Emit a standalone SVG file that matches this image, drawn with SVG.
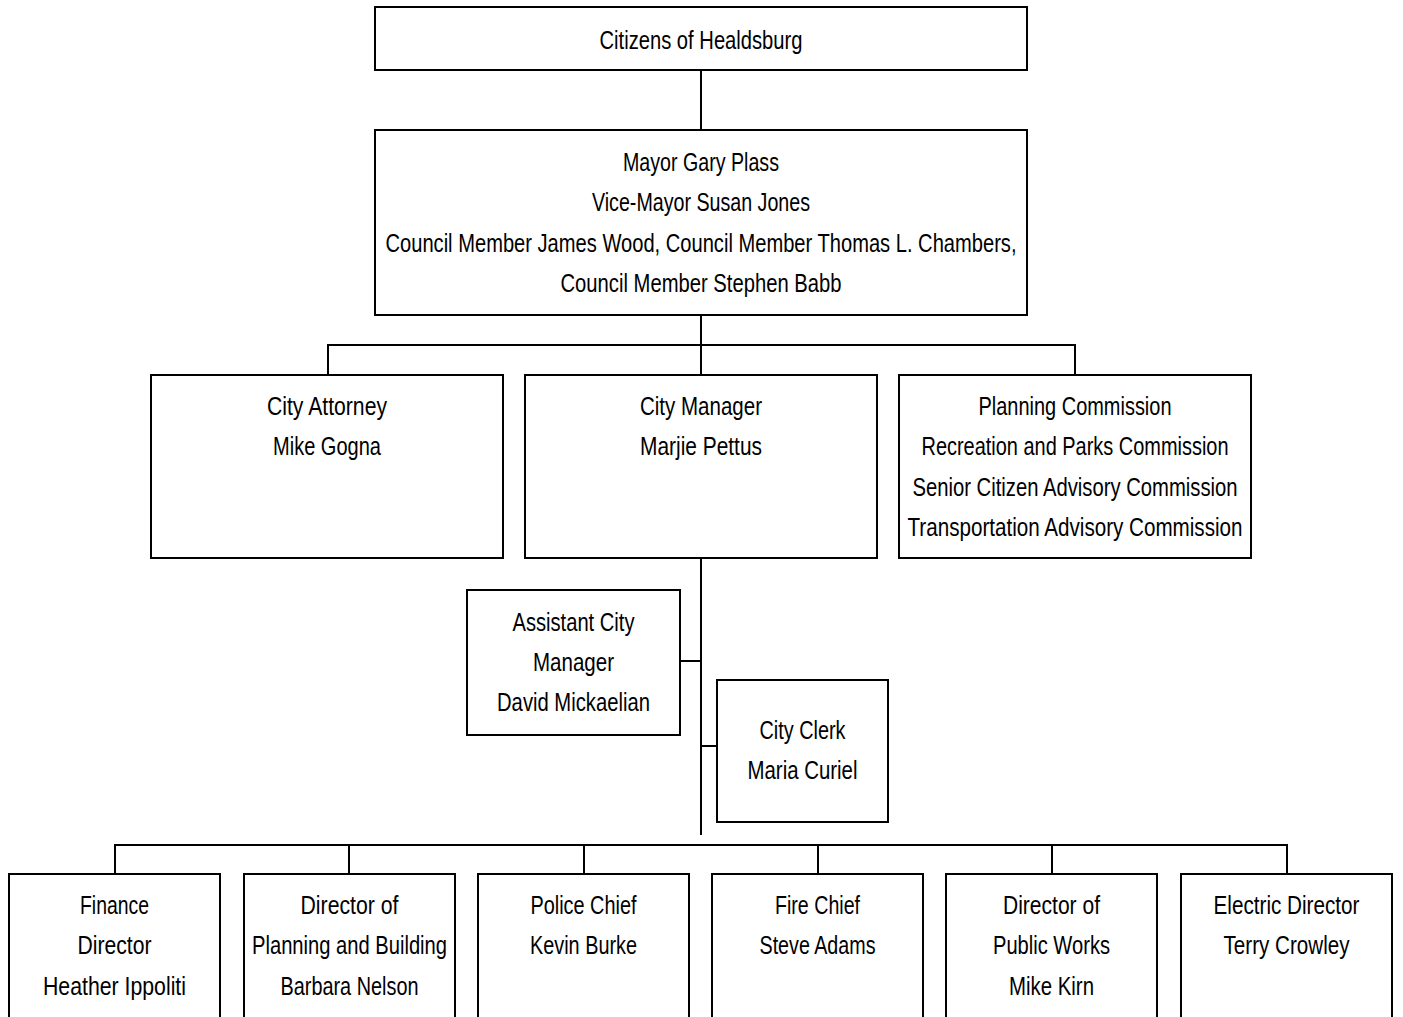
<svg xmlns="http://www.w3.org/2000/svg" width="1403" height="1017" viewBox="0 0 1403 1017">
<style>
  .box { fill: #ffffff; stroke: #000000; stroke-width: 2; }
  .conn { fill: none; stroke: #000000; stroke-width: 2; }
  text { font-family: "Liberation Sans Narrow", "Liberation Sans", Arial, sans-serif; font-size: 25px; fill: #000000; text-anchor: middle; }
</style>
<rect width="1403" height="1017" fill="#ffffff"/>
<g id="connectors">
  <path class="conn" d="M701 70 V130"/>
  <path class="conn" d="M701 315 V345 M328 375 V345 H1075 V375 M701 345 V375"/>
  <path class="conn" d="M701 558 V835"/>
  <path class="conn" d="M680 661 H701"/>
  <path class="conn" d="M701 746 H717"/>
  <path class="conn" d="M115 874 V845 H1287 V874 M349 845 V874 M584 845 V874 M818 845 V874 M1052 845 V874"/>
</g>
<g id="citizens">
  <rect class="box" x="375" y="7" width="652" height="63"/>
  <text x="701" y="49" textLength="203" lengthAdjust="spacingAndGlyphs">Citizens of Healdsburg</text>
</g>
<g id="council">
  <rect class="box" x="375" y="130" width="652" height="185"/>
  <text x="701" y="171" textLength="156" lengthAdjust="spacingAndGlyphs">Mayor Gary Plass</text>
  <text x="701" y="211" textLength="218" lengthAdjust="spacingAndGlyphs">Vice-Mayor Susan Jones</text>
  <text x="701" y="252" textLength="631" lengthAdjust="spacingAndGlyphs">Council Member James Wood, Council Member Thomas L. Chambers,</text>
  <text x="701" y="292" textLength="281" lengthAdjust="spacingAndGlyphs">Council Member Stephen Babb</text>
</g>
<g id="city-attorney">
  <rect class="box" x="151" y="375" width="352" height="183"/>
  <text x="327" y="415" textLength="120" lengthAdjust="spacingAndGlyphs">City Attorney</text>
  <text x="327" y="455" textLength="108" lengthAdjust="spacingAndGlyphs">Mike Gogna</text>
</g>
<g id="city-manager">
  <rect class="box" x="525" y="375" width="352" height="183"/>
  <text x="701" y="415" textLength="122" lengthAdjust="spacingAndGlyphs">City Manager</text>
  <text x="701" y="455" textLength="122" lengthAdjust="spacingAndGlyphs">Marjie Pettus</text>
</g>
<g id="commissions">
  <rect class="box" x="899" y="375" width="352" height="183"/>
  <text x="1075" y="415" textLength="193" lengthAdjust="spacingAndGlyphs">Planning Commission</text>
  <text x="1075" y="455" textLength="307" lengthAdjust="spacingAndGlyphs">Recreation and Parks Commission</text>
  <text x="1075" y="496" textLength="325" lengthAdjust="spacingAndGlyphs">Senior Citizen Advisory Commission</text>
  <text x="1075" y="536" textLength="335" lengthAdjust="spacingAndGlyphs">Transportation Advisory Commission</text>
</g>
<g id="assistant-city-manager">
  <rect class="box" x="467" y="590" width="213" height="145"/>
  <text x="573.5" y="631" textLength="122" lengthAdjust="spacingAndGlyphs">Assistant City</text>
  <text x="573.5" y="671" textLength="81" lengthAdjust="spacingAndGlyphs">Manager</text>
  <text x="573.5" y="711" textLength="153" lengthAdjust="spacingAndGlyphs">David Mickaelian</text>
</g>
<g id="city-clerk">
  <rect class="box" x="717" y="680" width="171" height="142"/>
  <text x="802.5" y="739" textLength="86" lengthAdjust="spacingAndGlyphs">City Clerk</text>
  <text x="802.5" y="779" textLength="110" lengthAdjust="spacingAndGlyphs">Maria Curiel</text>
</g>
<g id="finance-director">
  <rect class="box" x="9" y="874" width="211" height="160"/>
  <text x="114.5" y="914" textLength="69" lengthAdjust="spacingAndGlyphs">Finance</text>
  <text x="114.5" y="954" textLength="74" lengthAdjust="spacingAndGlyphs">Director</text>
  <text x="114.5" y="995" textLength="143" lengthAdjust="spacingAndGlyphs">Heather Ippoliti</text>
</g>
<g id="planning-building-director">
  <rect class="box" x="244" y="874" width="211" height="160"/>
  <text x="349.5" y="914" textLength="98" lengthAdjust="spacingAndGlyphs">Director of</text>
  <text x="349.5" y="954" textLength="195" lengthAdjust="spacingAndGlyphs">Planning and Building</text>
  <text x="349.5" y="995" textLength="138" lengthAdjust="spacingAndGlyphs">Barbara Nelson</text>
</g>
<g id="police-chief">
  <rect class="box" x="478" y="874" width="211" height="160"/>
  <text x="583.5" y="914" textLength="106" lengthAdjust="spacingAndGlyphs">Police Chief</text>
  <text x="583.5" y="954" textLength="107" lengthAdjust="spacingAndGlyphs">Kevin Burke</text>
</g>
<g id="fire-chief">
  <rect class="box" x="712" y="874" width="211" height="160"/>
  <text x="817.5" y="914" textLength="85" lengthAdjust="spacingAndGlyphs">Fire Chief</text>
  <text x="817.5" y="954" textLength="116" lengthAdjust="spacingAndGlyphs">Steve Adams</text>
</g>
<g id="public-works-director">
  <rect class="box" x="946" y="874" width="211" height="160"/>
  <text x="1051.5" y="914" textLength="97" lengthAdjust="spacingAndGlyphs">Director of</text>
  <text x="1051.5" y="954" textLength="117" lengthAdjust="spacingAndGlyphs">Public Works</text>
  <text x="1051.5" y="995" textLength="85" lengthAdjust="spacingAndGlyphs">Mike Kirn</text>
</g>
<g id="electric-director">
  <rect class="box" x="1181" y="874" width="211" height="160"/>
  <text x="1286.5" y="914" textLength="146" lengthAdjust="spacingAndGlyphs">Electric Director</text>
  <text x="1286.5" y="954" textLength="126" lengthAdjust="spacingAndGlyphs">Terry Crowley</text>
</g>
</svg>
